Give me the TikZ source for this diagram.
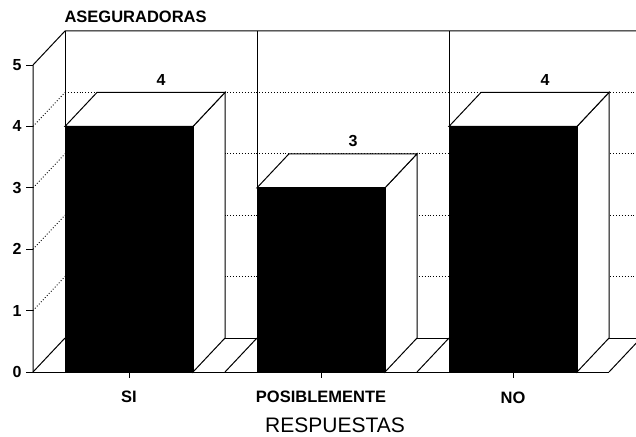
\documentclass[tikz,border=0pt]{standalone}
\usepackage{fontspec}
\setmainfont{Liberation Sans}
\begin{document}
\begin{tikzpicture}[x=1pt,y=-1pt,line width=1pt,
    grd/.style={dotted,line width=0.9pt},
    barfront/.style={fill=black,draw=black},
    barside/.style={fill=white,draw=black},
    lbl/.style={font=\fontsize{16.5}{18}\selectfont\bfseries,inner sep=0pt},
    val/.style={font=\fontsize{16}{18}\selectfont\bfseries,inner sep=0pt}]
        \clip (0,0) rectangle (636,436);

        % pared izquierda y pared del fondo
        \draw (33,372)--(33,65)--(65,31)--(636,31);
        \draw[grd] (33,310.6)--(65,276.6);
        \draw[grd] (33,249.2)--(65,215.2);
        \draw[grd] (33,187.8)--(65,153.8);
        \draw[grd] (33,126.4)--(65,92.4);
        \draw[grd] (65,276.6)--(636,276.6);
        \draw[grd] (65,215.2)--(636,215.2);
        \draw[grd] (65,153.8)--(636,153.8);
        \draw[grd] (65,92.4)--(636,92.4);
        \draw (65,31)--(65,338);
        \draw (257,31)--(257,338);
        \draw (449,31)--(449,338);

        % piso
        \draw (33,372)--(609,372);
        \draw (65,338)--(636,338);
        \draw (33,372)--(65,338);
        \draw (225,372)--(257,338);
        \draw (417,372)--(449,338);
        \draw (609,372)--(641,338);

        % SI
        \draw[barside] (193,372)--(225,338)--(225,92.4)--(193,126.4)--cycle;
        \draw[barside] (65,126.4)--(97,92.4)--(225,92.4)--(193,126.4)--cycle;
        \draw[barfront] (65,372) rectangle (193,126.4);
        \node[val,anchor=south] (vsi) at (161,86) {4};

        % POSIBLEMENTE
        \draw[barside] (385,372)--(417,338)--(417,153.8)--(385,187.8)--cycle;
        \draw[barside] (257,187.8)--(289,153.8)--(417,153.8)--(385,187.8)--cycle;
        \draw[barfront] (257,372) rectangle (385,187.8);
        \node[val,anchor=south] (vpos) at (353,147) {3};

        % NO
        \draw[barside] (577,372)--(609,338)--(609,92.4)--(577,126.4)--cycle;
        \draw[barside] (449,126.4)--(481,92.4)--(609,92.4)--(577,126.4)--cycle;
        \draw[barfront] (449,372) rectangle (577,126.4);
        \node[val,anchor=south] (vno) at (545,86) {4};

        % eje vertical
        \draw (33,372)--(26,372) node[val,anchor=east,xshift=-4pt] (y0) {0};
        \draw (33,310.6)--(26,310.6) node[val,anchor=east,xshift=-4pt] (y1) {1};
        \draw (33,249.2)--(26,249.2) node[val,anchor=east,xshift=-4pt] (y2) {2};
        \draw (33,187.8)--(26,187.8) node[val,anchor=east,xshift=-4pt] (y3) {3};
        \draw (33,126.4)--(26,126.4) node[val,anchor=east,xshift=-4pt] (y4) {4};
        \draw (33,65)--(26,65) node[val,anchor=east,xshift=-4pt] (y5) {5};

        % eje horizontal
        \draw (129,372)--(129,378);
        \draw (321,372)--(321,378);
        \draw (513,372)--(513,378);
        \node[lbl] (csi) at (129,397) {SI};
        \node[lbl] (cpos) at (321,397) {POSIBLEMENTE};
        \node[lbl] (cno) at (513,398) {NO};
        \node[font=\fontsize{21}{24}\selectfont,inner sep=0pt] (xtitle) at (335,425) {RESPUESTAS};
        \node[lbl,anchor=west] (ytitle) at (64,17) {ASEGURADORAS};
\end{tikzpicture}
\end{document}
